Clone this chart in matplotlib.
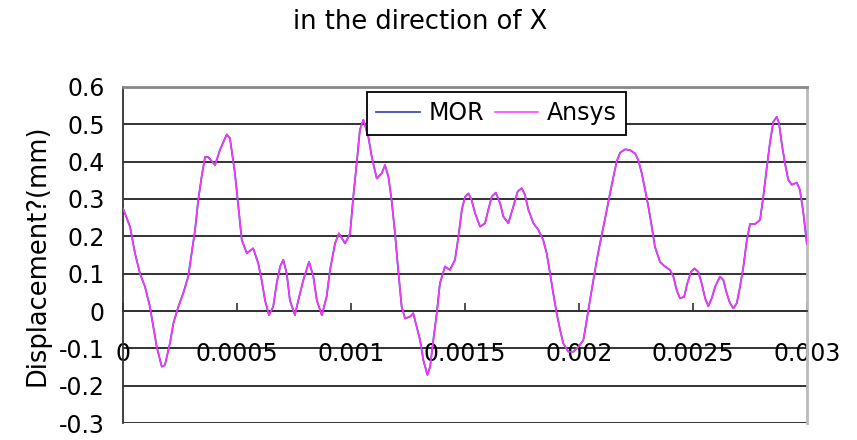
import matplotlib
matplotlib.use('Agg')
import matplotlib.pyplot as plt
import numpy as np

# 时间 (ms) 与位移 (mm)
t_ms = [0, 0.0307, 0.0526, 0.0746, 0.0965, 0.118, 0.133, 0.148, 0.170, 0.184,
        0.206, 0.221, 0.243, 0.264, 0.286, 0.301, 0.316, 0.330, 0.345, 0.360,
        0.374, 0.404, 0.425, 0.455, 0.469, 0.491, 0.506, 0.521, 0.543, 0.571,
        0.593, 0.608, 0.623, 0.640, 0.659, 0.674, 0.689, 0.703, 0.718, 0.732,
        0.754, 0.769, 0.791, 0.816, 0.835, 0.850, 0.872, 0.893, 0.908, 0.930,
        0.947, 0.974, 0.996, 1.010, 1.025, 1.039, 1.054, 1.076, 1.091, 1.113,
        1.135, 1.149, 1.164, 1.178, 1.193, 1.207, 1.222, 1.237, 1.259, 1.273,
        1.288, 1.303, 1.317, 1.335, 1.347, 1.361, 1.376, 1.390, 1.412, 1.434,
        1.456, 1.471, 1.486, 1.500, 1.515, 1.529, 1.544, 1.566, 1.588, 1.602,
        1.617, 1.635, 1.654, 1.668, 1.690, 1.712, 1.731, 1.749, 1.763, 1.778,
        1.800, 1.822, 1.843, 1.858, 1.873, 1.887, 1.902, 1.917, 1.931, 1.953,
        1.975, 1.997, 2.019, 2.034, 2.048, 2.063, 2.078, 2.092, 2.107, 2.122,
        2.136, 2.151, 2.165, 2.180, 2.202, 2.224, 2.246, 2.260, 2.275, 2.290,
        2.304, 2.319, 2.333, 2.355, 2.377, 2.399, 2.414, 2.428, 2.443, 2.461,
        2.475, 2.491, 2.506, 2.523, 2.538, 2.553, 2.567, 2.582, 2.597, 2.618,
        2.633, 2.648, 2.662, 2.677, 2.692, 2.706, 2.721, 2.736, 2.750, 2.772,
        2.794, 2.808, 2.823, 2.837, 2.852, 2.867, 2.877, 2.889, 2.903, 2.918,
        2.933, 2.955, 2.969, 2.984, 2.999]

ansys = [0.275, 0.226, 0.155, 0.100, 0.065, 0.012, -0.042, -0.096, -0.149, -0.145,
         -0.086, -0.033, 0.012, 0.047, 0.092, 0.155, 0.217, 0.297, 0.360, 0.413,
         0.412, 0.391, 0.431, 0.473, 0.463, 0.369, 0.280, 0.190, 0.155, 0.168,
         0.128, 0.083, 0.029, -0.011, 0.012, 0.074, 0.119, 0.137, 0.101, 0.029,
         -0.011, 0.029, 0.083, 0.132, 0.092, 0.029, -0.011, 0.038, 0.110, 0.181,
         0.208, 0.181, 0.208, 0.306, 0.396, 0.485, 0.512, 0.467, 0.413, 0.355,
         0.369, 0.391, 0.360, 0.297, 0.208, 0.110, 0.012, -0.020, -0.015, -0.006,
         -0.042, -0.078, -0.131, -0.171, -0.149, -0.078, -0.006, 0.074, 0.119, 0.110,
         0.137, 0.199, 0.271, 0.306, 0.315, 0.297, 0.262, 0.226, 0.235, 0.271,
         0.306, 0.317, 0.288, 0.253, 0.235, 0.280, 0.320, 0.329, 0.311, 0.271,
         0.235, 0.217, 0.190, 0.155, 0.101, 0.047, -0.006, -0.051, -0.087, -0.109,
         -0.109, -0.096, -0.078, -0.024, 0.029, 0.083, 0.137, 0.181, 0.226, 0.271,
         0.315, 0.360, 0.400, 0.424, 0.433, 0.431, 0.422, 0.404, 0.369, 0.324,
         0.280, 0.226, 0.172, 0.132, 0.119, 0.110, 0.092, 0.056, 0.034, 0.038,
         0.074, 0.105, 0.114, 0.105, 0.074, 0.034, 0.013, 0.034, 0.065, 0.092,
         0.083, 0.047, 0.021, 0.007, 0.021, 0.065, 0.119, 0.190, 0.233, 0.233,
         0.244, 0.306, 0.382, 0.449, 0.507, 0.520, 0.503, 0.449, 0.396, 0.351,
         0.338, 0.344, 0.324, 0.262, 0.181]

mor = ansys  # 降阶模型结果与 Ansys 几乎重合

x_ticks = [0, 0.0005, 0.001, 0.0015, 0.002, 0.0025, 0.003]
x_labels = ['0', '0.0005', '0.001', '0.0015', '0.002', '0.0025', '0.003']
y_ticks = [-0.3, -0.2, -0.1, 0, 0.1, 0.2, 0.3, 0.4, 0.5, 0.6]
y_labels = ['-0.3', '-0.2', '-0.1', '0', '0.1', '0.2', '0.3', '0.4', '0.5', '0.6']

t = np.array(t_ms) * 1e-3

plt.rcParams['font.family'] = ['DejaVu Sans']
fig = plt.figure(figsize=(8.57, 4.40), dpi=100)
ax = fig.add_axes([0.1435, 0.0386, 0.7982, 0.7637])

# 水平网格线
for yv in y_ticks:
    ax.axhline(yv, color='#222222', lw=1.3, zorder=1)

ax.plot(t, mor, color='#3a4fb8', lw=1.3, label='MOR', zorder=3)
ax.plot(t, ansys, color='#ff33ff', lw=1.1, label='Ansys', zorder=4)

ax.set_xlim(0, 0.003)
ax.set_ylim(-0.3, 0.6)
ax.set_xticks(x_ticks)
ax.set_xticklabels(x_labels)
ax.set_yticks(y_ticks)
ax.set_yticklabels(y_labels)

ax.spines['bottom'].set_position(('data', 0))
ax.spines['bottom'].set_color('#333333')
ax.spines['bottom'].set_linewidth(1.3)
ax.spines['left'].set_color('#333333')
ax.spines['left'].set_linewidth(1.3)
ax.spines['top'].set_color('#888888')
ax.spines['top'].set_linewidth(2)
ax.spines['right'].set_color('#bbbbbb')
ax.spines['right'].set_linewidth(2)

ax.tick_params(axis='x', direction='in', length=6, width=1.2, color='#333333',
               labelsize=17, pad=22)
ax.tick_params(axis='y', length=0, labelsize=17, pad=13)

ax.set_ylabel('Displacement?(mm)', fontsize=18.5, labelpad=6)
fig.text(0.49, 0.95, 'in the direction of X', fontsize=18.5, ha='center', va='center')

leg = ax.legend(loc='upper left', bbox_to_anchor=(367 / 857, 1 - 92 / 440),
                bbox_transform=fig.transFigure, ncol=2, fontsize=17,
                frameon=True, fancybox=False, framealpha=1, edgecolor='black',
                handlelength=1.85, handletextpad=0.35, columnspacing=0.45,
                borderpad=0.4, borderaxespad=0)
leg.get_frame().set_linewidth(1.3)
leg.set_zorder(10)

fig.savefig('out.png', dpi=100)
